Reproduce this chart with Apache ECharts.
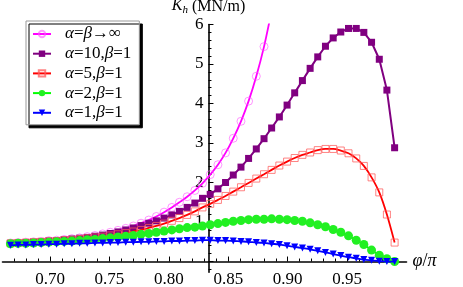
<!DOCTYPE html>
<html>
<head>
<meta charset="utf-8">
<script src="https://cdn.jsdelivr.net/npm/echarts@6/dist/echarts.min.js"></script>
<style>html,body{margin:0;padding:0;background:#fff;}#c{width:463px;height:287px;}</style>
</head>
<body>
<div id="c"></div>
<script>
// phi/pi sample positions
const phi = [0.6667,0.6731,0.6796,0.6861,0.6925,0.6990,0.7055,0.7119,0.7184,0.7249,
  0.7313,0.7378,0.7443,0.7507,0.7572,0.7637,0.7701,0.7766,0.7831,0.7895,
  0.7960,0.8025,0.8089,0.8154,0.8219,0.8283,0.8348,0.8413,0.8477,0.8542,
  0.8607,0.8671,0.8736,0.8801,0.8865,0.8930,0.8995,0.9059,0.9124,0.9189,
  0.9253,0.9318,0.9383,0.9447,0.9512,0.9577,0.9641,0.9706,0.9771,0.9835,0.9900];
const seriesNames = ['α=β→∞','α=10,β=1','α=5,β=1','α=2,β=1','α=1,β=1'];
const kInf = [0.47,0.48,0.49,0.50,0.51,0.53,0.54,0.56,0.58,0.60,
  0.63,0.66,0.70,0.74,0.79,0.84,0.90,0.97,1.05,1.14,
  1.25,1.37,1.50,1.64,1.80,1.98,2.20,2.45,2.75,3.12,
  3.55,4.06,4.69,5.44,6.35];
const k10 = [0.46,0.47,0.48,0.49,0.50,0.52,0.53,0.55,0.57,0.59,
  0.61,0.64,0.67,0.71,0.75,0.80,0.85,0.91,0.97,1.03,
  1.10,1.18,1.27,1.37,1.48,1.60,1.70,1.84,2.00,2.19,
  2.39,2.61,2.85,3.11,3.38,3.66,3.96,4.27,4.58,4.89,
  5.18,5.45,5.66,5.81,5.90,5.90,5.80,5.55,5.12,4.34,2.88];
const k5 = [0.46,0.47,0.48,0.49,0.50,0.51,0.52,0.54,0.55,0.57,
  0.59,0.61,0.63,0.66,0.69,0.72,0.76,0.80,0.85,0.90,
  0.96,1.03,1.10,1.18,1.27,1.37,1.46,1.56,1.66,1.77,
  1.88,1.99,2.10,2.21,2.32,2.43,2.53,2.62,2.70,2.76,
  2.82,2.85,2.85,2.81,2.74,2.61,2.42,2.13,1.75,1.19,0.48];
const k2 = [0.45,0.46,0.46,0.47,0.48,0.49,0.50,0.51,0.52,0.53,
  0.55,0.56,0.58,0.60,0.62,0.64,0.66,0.69,0.71,0.74,
  0.77,0.80,0.83,0.86,0.87,0.90,0.93,0.96,0.99,1.02,
  1.04,1.06,1.07,1.07,1.08,1.07,1.06,1.04,1.02,0.98,
  0.93,0.88,0.81,0.74,0.65,0.54,0.43,0.29,0.16,0.07,0.00];
const k1 = [0.41,0.42,0.42,0.43,0.43,0.44,0.44,0.45,0.45,0.46,
  0.46,0.47,0.47,0.48,0.48,0.49,0.49,0.50,0.50,0.51,
  0.51,0.52,0.52,0.53,0.53,0.54,0.54,0.53,0.53,0.52,
  0.51,0.50,0.48,0.47,0.45,0.43,0.40,0.37,0.34,0.31,
  0.27,0.23,0.19,0.15,0.11,0.08,0.05,0.03,0.01,0.00,0.00];
const xTicks = [0.70,0.75,0.80,0.85,0.90,0.95];
const yTicks = [1,2,3,4,5,6];

const xMin = 0.66, xMax = 1.0, yMin = -0.27, yMax = 6.0, yCross = 5/6;
const gridLeft = 2.5, gridWidth = 404, gridTop = 24.5, gridHeight = 247.7;

const font = 'Liberation Serif';
function pairs(arr){ return arr.map((v,i)=>[phi[i], v]); }
function greek(s){ return s.replace(/([αβ])/g, '{g|$1}'); }

const chart = echarts.init(document.getElementById('c'), null, {renderer:'canvas'});
const yOffset = -((yCross - xMin)/(xMax - xMin))*gridWidth;
const clear = 'rgba(255,255,255,0)';

chart.setOption({
  animation:false,
  backgroundColor:'#fff',
  grid:{left:gridLeft, top:gridTop, width:gridWidth, height:gridHeight, containLabel:false, outerBoundsMode:'none'},
  legend:{
    left:26, top:21, orient:'vertical', itemWidth:18, itemHeight:8, itemGap:1.7,
    padding:[4,8,3,6],
    backgroundColor:'#fff', borderColor:'#999', borderWidth:1,
    shadowColor:'#000', shadowBlur:0, shadowOffsetX:3, shadowOffsetY:3,
    formatter: n => greek(n),
    textStyle:{fontFamily:font, fontSize:17, lineHeight:18, color:'#000', padding:[0,0,0,9],
      rich:{g:{fontFamily:font, fontSize:17, lineHeight:18, fontStyle:'italic', color:'#000'}}},
    data: seriesNames
  },
  xAxis:{
    type:'value', min:xMin, max:xMax,
    name:'{i|φ}/{i|π}', nameLocation:'end', nameGap:6,
    nameTextStyle:{fontFamily:font, fontSize:18, lineHeight:18, verticalAlign:'middle', color:'#000',
      rich:{i:{fontFamily:font,fontSize:18,lineHeight:18,fontStyle:'italic',color:'#000'}}},
    axisLine:{onZero:true, lineStyle:{color:'#000', width:1.6}},
    axisTick:{inside:true, length:5, customValues:xTicks, lineStyle:{color:'#000', width:1}},
    minorTick:{show:true, splitNumber:5, length:3, lineStyle:{color:'#000', width:1}},
    axisLabel:{customValues:xTicks, fontFamily:font, fontSize:17, color:'#000', margin:-1,
      formatter: v => v.toFixed(2)},
    splitLine:{show:false}
  },
  yAxis:{
    type:'value', min:yMin, max:yMax, position:'left', offset:yOffset,
    name:'{k|K}{h|h} (MN/m)', nameLocation:'end', nameGap:0,
    nameTextStyle:{fontFamily:font, fontSize:16, color:'#000', align:'center', padding:[0,0,0,0],
      rich:{k:{fontFamily:font,fontSize:16,fontStyle:'italic',color:'#000',verticalAlign:'top',lineHeight:18},
            h:{fontFamily:font,fontSize:11,fontStyle:'italic',color:'#000',verticalAlign:'bottom',lineHeight:12}}},
    axisLine:{onZero:false, lineStyle:{color:'#000', width:1.6}},
    axisTick:{inside:true, length:5, customValues:[0,1,2,3,4,5,6], lineStyle:{color:'#000', width:1}},
    minorTick:{show:true, splitNumber:5, length:3, lineStyle:{color:'#000', width:1}},
    axisLabel:{customValues:yTicks, fontFamily:font, fontSize:17, color:'#000', margin:5},
    splitLine:{show:false}
  },
  series:[
    {name:seriesNames[0], type:'line', data:pairs(kInf), smooth:0.3, clip:true,
     symbol:'circle', symbolSize:8, z:2,
     lineStyle:{color:'#ff00ff', width:1.8}, itemStyle:{color:clear, borderColor:'rgba(255,80,255,0.6)', borderWidth:1}},
    {name:seriesNames[1], type:'line', data:pairs(k10), smooth:false, clip:true,
     symbol:'rect', symbolSize:7, z:3,
     lineStyle:{color:'#800080', width:2}, itemStyle:{color:'#800080'}},
    {name:seriesNames[2], type:'line', data:pairs(k5), smooth:0.3, clip:true,
     symbol:'rect', symbolSize:7, z:4,
     lineStyle:{color:'#ff0000', width:1.8}, itemStyle:{color:clear, borderColor:'rgba(255,90,90,0.75)', borderWidth:1}},
    {name:seriesNames[3], type:'line', data:pairs(k2), smooth:0.3, clip:true,
     symbol:'circle', symbolSize:9, z:5,
     lineStyle:{color:'#00ff00', width:1.8}, itemStyle:{color:'#22f022'}},
    {name:seriesNames[4], type:'line', data:pairs(k1), smooth:0.3, clip:true,
     symbol:'triangle', symbolRotate:180, symbolSize:7, z:6,
     lineStyle:{color:'#0000ff', width:1.8}, itemStyle:{color:'#0000ff'}}
  ]
});
</script>
</body>
</html>
